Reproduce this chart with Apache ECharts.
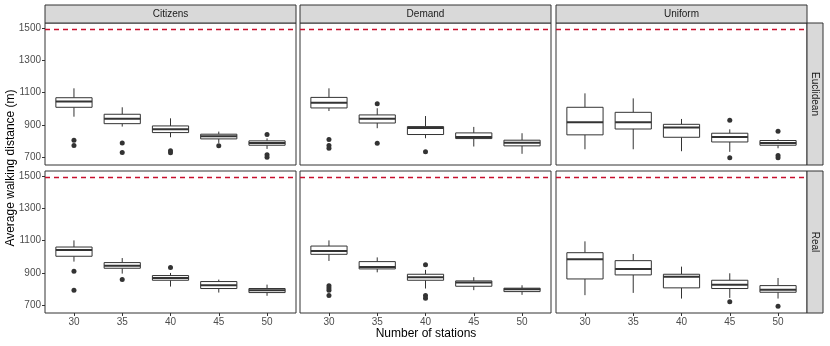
<!DOCTYPE html>
<html>
<head>
<meta charset="utf-8">
<script src="https://cdn.jsdelivr.net/npm/echarts@6/dist/echarts.min.js"></script>
<style>
  html, body { margin: 0; padding: 0; background: #fff; }
  #chart { width: 830px; height: 346px; }
</style>
</head>
<body>
<div id="chart"></div>
<script>
// facets
const colNames = ['Citizens', 'Demand', 'Uniform'];
const rowNames = ['Euclidean', 'Real'];
const stations = [30, 35, 40, 45, 50];
const yTicks = [700, 900, 1100, 1300, 1500];
const refLine = 1490;

// box stats per station: [lower whisker, Q1, median, Q3, upper whisker]
const citizensEuclidean = [[952, 1010, 1045, 1069, 1127], [891, 909, 940, 967, 1010], [825, 854, 874, 895, 942], [790, 815, 831, 844, 860], [753, 776, 790, 803, 818]];
const demandEuclidean = [[987, 1006, 1038, 1071, 1127], [881, 913, 940, 963, 1004], [819, 842, 883, 891, 956], [768, 817, 827, 852, 889], [723, 772, 792, 807, 850]];
const uniformEuclidean = [[751, 840, 917, 1010, 1096], [751, 876, 917, 979, 1065], [739, 825, 885, 905, 938], [735, 796, 827, 850, 874], [757, 776, 790, 805, 813]];
const citizensReal = [[971, 1004, 1043, 1061, 1102], [897, 930, 946, 965, 993], [817, 856, 870, 885, 901], [780, 805, 825, 848, 860], [760, 780, 795, 805, 829]];
const demandReal = [[975, 1016, 1036, 1067, 1102], [905, 926, 938, 971, 997], [805, 856, 875, 893, 920], [795, 819, 842, 852, 875], [766, 786, 801, 807, 825]];
const uniformReal = [[764, 864, 985, 1026, 1096], [778, 889, 926, 977, 1018], [743, 809, 877, 893, 940], [747, 805, 829, 856, 899], [743, 782, 797, 823, 870]];

// outliers: [stations, value]
const citizensEuclideanOut = [[30, 807], [30, 774], [35, 790], [35, 731], [40, 742], [40, 730], [45, 772], [50, 842], [50, 718], [50, 702]];
const demandEuclideanOut = [[30, 812], [30, 775], [30, 757], [35, 1032], [35, 788], [40, 735]];
const uniformEuclideanOut = [[45, 930], [45, 698], [50, 862], [50, 712], [50, 698]];
const citizensRealOut = [[30, 911], [30, 795], [35, 860], [40, 934]];
const demandRealOut = [[30, 822], [30, 808], [30, 795], [30, 762], [40, 952], [40, 762], [40, 745]];
const uniformRealOut = [[45, 723], [50, 696]];

const boxSets = [citizensEuclidean, demandEuclidean, uniformEuclidean, citizensReal, demandReal, uniformReal];
const outSets = [citizensEuclideanOut, demandEuclideanOut, uniformEuclideanOut, citizensRealOut, demandRealOut, uniformRealOut];

const FONT = 'Liberation Sans';
const colLeft = [45, 300, 556];
const panelW = 251;
const rowTop = [23, 171];
const panelH = 142;

function renderBox(params, api) {
  const x = api.value(0);
  const lo = api.coord([x, api.value(1)]);
  const q1 = api.coord([x, api.value(2)]);
  const med = api.coord([x, api.value(3)]);
  const q3 = api.coord([x, api.value(4)]);
  const hi = api.coord([x, api.value(5)]);
  const w = api.size([3.75, 0])[0];
  const cx = lo[0];
  const st = { stroke: '#333333', lineWidth: 1 };
  return {
    type: 'group',
    children: [
      { type: 'line', shape: { x1: cx, y1: hi[1], x2: cx, y2: q3[1] }, style: st },
      { type: 'line', shape: { x1: cx, y1: q1[1], x2: cx, y2: lo[1] }, style: st },
      { type: 'rect', shape: { x: cx - w / 2, y: q3[1], width: w, height: q1[1] - q3[1] }, style: { fill: '#ffffff', stroke: '#333333', lineWidth: 1 } },
      { type: 'line', shape: { x1: cx - w / 2, y1: med[1], x2: cx + w / 2, y2: med[1] }, style: { stroke: '#333333', lineWidth: 2 } }
    ]
  };
}

const grid = [], xAxis = [], yAxis = [], series = [], graphic = [];

for (let r = 0; r < 2; r++) {
  for (let c = 0; c < 3; c++) {
    const i = r * 3 + c;
    grid.push({
      left: colLeft[c], top: rowTop[r], width: panelW, height: panelH,
      show: true, borderColor: '#333333', borderWidth: 1, backgroundColor: '#fff'
    });
    xAxis.push({
      type: 'value', gridIndex: i, min: 27, max: 53,
      axisLine: { show: false },
      splitLine: { show: false },
      axisTick: { show: r === 1, length: 3, lineStyle: { color: '#333' }, customValues: stations },
      axisLabel: { show: r === 1, customValues: stations, color: '#4d4d4d', fontSize: 10, fontFamily: FONT, margin: 4 }
    });
    yAxis.push({
      type: 'value', gridIndex: i, min: 654, max: 1530,
      axisLine: { show: false },
      splitLine: { show: false },
      axisTick: { show: c === 0, length: 3, lineStyle: { color: '#333' }, customValues: yTicks },
      axisLabel: {
        show: c === 0, customValues: yTicks, formatter: v => String(v),
        color: '#4d4d4d', fontSize: 10, fontFamily: FONT, margin: 4
      }
    });
    series.push({
      type: 'custom', xAxisIndex: i, yAxisIndex: i,
      renderItem: renderBox,
      data: boxSets[i].map((b, k) => [stations[k]].concat(b)),
      encode: { x: 0, y: [1, 2, 3, 4, 5] },
      silent: true
    });
    series.push({
      type: 'scatter', xAxisIndex: i, yAxisIndex: i,
      data: outSets[i], symbolSize: 5,
      itemStyle: { color: '#333333', opacity: 1 },
      silent: true,
      markLine: {
        silent: true, symbol: 'none', label: { show: false },
        lineStyle: { color: '#c8102e', type: [5, 4], width: 1.3, opacity: 1 },
        emphasis: { disabled: true },
        data: [{ yAxis: refLine, lineStyle: { color: '#c8102e' } }]
      }
    });
  }
}

// column strips
colNames.forEach((name, c) => {
  graphic.push({
    type: 'rect', shape: { x: colLeft[c], y: 5, width: panelW, height: 18 },
    style: { fill: '#d9d9d9', stroke: '#333333', lineWidth: 1 }, z: 10
  });
  graphic.push({
    type: 'text', x: colLeft[c] + panelW / 2, y: 14,
    style: { text: name, fill: '#1a1a1a', font: '10px "Liberation Sans"', align: 'center', verticalAlign: 'middle' }, z: 11
  });
});
// row strips
rowNames.forEach((name, r) => {
  graphic.push({
    type: 'rect', shape: { x: 807, y: rowTop[r], width: 16, height: panelH },
    style: { fill: '#d9d9d9', stroke: '#333333', lineWidth: 1 }, z: 10
  });
  graphic.push({
    type: 'text', x: 815, y: rowTop[r] + panelH / 2, rotation: -Math.PI / 2,
    style: { text: name, fill: '#1a1a1a', font: '10px "Liberation Sans"', align: 'center', verticalAlign: 'middle' }, z: 11
  });
});
// axis titles
graphic.push({
  type: 'text', x: 426, y: 334,
  style: { text: 'Number of stations', fill: '#000', font: '12px "Liberation Sans"', align: 'center', verticalAlign: 'middle' }
});
graphic.push({
  type: 'text', x: 11, y: 168, rotation: Math.PI / 2,
  style: { text: 'Average walking distance (m)', fill: '#000', font: '12px "Liberation Sans"', align: 'center', verticalAlign: 'middle' }
});

const chart = echarts.init(document.getElementById('chart'));
chart.setOption({
  animation: false,
  backgroundColor: '#ffffff',
  grid, xAxis, yAxis, series, graphic
});
</script>
</body>
</html>
